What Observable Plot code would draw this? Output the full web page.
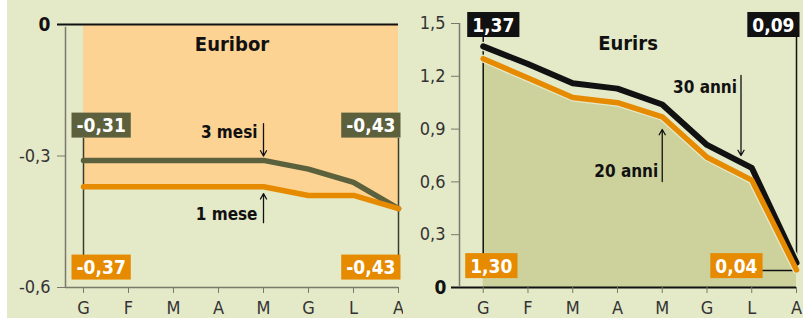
<!DOCTYPE html>
<html><head><meta charset="utf-8">
<script src="https://cdn.jsdelivr.net/npm/d3@7"></script>
<script src="https://cdn.jsdelivr.net/npm/@observablehq/plot@0.6"></script>
<style>
body{margin:0;background:#fff;}
#wrap{display:flex;width:803px;height:318px;overflow:hidden;}
svg{display:block;flex:none}
</style></head><body><div id="wrap"></div>
<script>
// ---- data ----
const months = ["G","F","M","A","M","G","L","A"];
const euribor3m = [-0.31,-0.31,-0.31,-0.31,-0.31,-0.33,-0.36,-0.42];
const euribor1m = [-0.37,-0.37,-0.37,-0.37,-0.37,-0.39,-0.39,-0.42];
const eurirs30 = [1.37,1.27,1.16,1.13,1.04,0.81,0.68,0.14];
const eurirs20 = [1.30,1.19,1.08,1.05,0.97,0.74,0.61,0.10];
const euriborTicks = [-0.6,-0.3,0];
const eurirsTicks = [0,0.3,0.6,0.9,1.2,1.5];
const label3m = ["-0,31","-0,43"];
const label1m = ["-0,37","-0,43"];
const label30 = ["1,37","0,09"];
const label20 = ["1,30","0,04"];

const idx = months.map((m,i)=>i);
const FONT = '"DejaVu Sans Condensed","DejaVu Sans",sans-serif';
const BG = "#e4e9c8";
const OLIVE = "#5b603d";
const ORANGE = "#e68a00";
const BLACK = "#111";
const GRAY = "#7a7a6a";
const fmt = v => v === 0 ? "0" : v.toFixed(1).replace(".", ",");
const box = (color) => ({textAnchor: "start", lineAnchor: "middle", fill: "white", fontWeight: "bold", fontSize: 19, ariaDescription: "box " + color});

const left = Plot.plot({
  width: 403, height: 318,
  marginLeft: 65, marginRight: 5, marginTop: 24, marginBottom: 31,
  x: {domain: [-0.4, 7]},
  y: {domain: [-0.6, 0]},
  style: {background: `linear-gradient(to right, #fff 7px, ${BG} 7px)`, fontFamily: FONT, overflow: "visible"},
  marks: [
    Plot.areaY(idx, {x: i => i, y1: 0, y2: i => euribor1m[i], fill: "#fdd394"}),
    Plot.ruleY([-0.6], {stroke: GRAY, strokeWidth: 1.5}),
    Plot.ruleX([-0.4], {y1: -0.6, y2: -0.006, stroke: GRAY, strokeWidth: 1.5}),
    Plot.axisY({ticks: euriborTicks.filter(d => d !== 0), tickFormat: fmt, tickSize: 8, tickPadding: 7, stroke: GRAY, fill: "#333", fontSize: 18}),
    Plot.axisY({ticks: [0], tickFormat: fmt, tickSize: 8, tickPadding: 7, stroke: BLACK, strokeWidth: 2, fill: BLACK, fontSize: 19, fontWeight: "bold"}),
    Plot.ruleY([0], {stroke: BLACK, strokeWidth: 2}),
    Plot.axisX({ticks: idx, tickFormat: i => months[i], tickSize: 6, tickPadding: 8, stroke: GRAY, fill: "#333", fontSize: 18}),
    Plot.ruleX([0, 7], {y1: -0.26, y2: -0.527, stroke: "#3c3c2c", strokeWidth: 1.5}),
    Plot.lineY(idx, {x: i => i, y: i => euribor3m[i], stroke: OLIVE, strokeWidth: 5.5}),
    Plot.lineY(idx, {x: i => i, y: i => euribor1m[i], stroke: ORANGE, strokeWidth: 5.5}),
    Plot.text(["Euribor"], {text: d => d, frameAnchor: "top", dy: 20, lineAnchor: "middle", fontWeight: "bold", fontSize: 20, fill: BLACK}),
    Plot.text(["3 mesi"], {text: d => d, x: 4, y: -0.2455, dx: -6, textAnchor: "end", lineAnchor: "middle", fontWeight: "bold", fontSize: 17, fill: BLACK}),
    Plot.arrow([0], {x1: 4, x2: 4, y1: -0.226, y2: -0.300, stroke: BLACK, strokeWidth: 1.3, headLength: 7}),
    Plot.text(["1 mese"], {text: d => d, x: 4, y: -0.433, dx: -6, textAnchor: "end", lineAnchor: "middle", fontWeight: "bold", fontSize: 17, fill: BLACK}),
    Plot.arrow([0], {x1: 4, x2: 4, y1: -0.452, y2: -0.386, stroke: BLACK, strokeWidth: 1.3, headLength: 7}),
    Plot.text([label3m[0]], {...box("#5c603c"), text: d => d, x: 0, y: -0.2316, dx: -7}),
    Plot.text([label3m[1]], {...box("#5c603c"), text: d => d, x: 7, y: -0.2316, dx: -3, textAnchor: "end"}),
    Plot.text([label1m[0]], {...box(ORANGE), text: d => d, x: 0, y: -0.5555, dx: -7}),
    Plot.text([label1m[1]], {...box(ORANGE), text: d => d, x: 7, y: -0.5555, dx: -3, textAnchor: "end"})
  ]
});

const right = Plot.plot({
  width: 400, height: 318,
  marginLeft: 56, marginRight: 7, marginTop: 23, marginBottom: 31,
  x: {domain: [-0.53, 7]},
  y: {domain: [0, 1.5]},
  style: {background: BG, fontFamily: FONT, overflow: "visible"},
  marks: [
    Plot.areaY(idx, {x: i => i, y1: 0, y2: i => eurirs20[i], fill: "#cdd29c"}),
    Plot.ruleX([-0.53], {y1: 0.006, y2: 1.5, stroke: GRAY, strokeWidth: 1.5}),
    Plot.axisY({ticks: eurirsTicks.filter(d => d !== 0), tickFormat: fmt, tickSize: 8, tickPadding: 6, stroke: GRAY, fill: "#333", fontSize: 18}),
    Plot.axisY({ticks: [0], tickFormat: fmt, tickSize: 8, tickPadding: 5, stroke: BLACK, strokeWidth: 2, fill: BLACK, fontSize: 19, fontWeight: "bold"}),
    Plot.ruleY([0], {stroke: BLACK, strokeWidth: 2}),
    Plot.axisX({ticks: idx, tickFormat: i => months[i], tickSize: 6, tickPadding: 8, stroke: GRAY, fill: "#333", fontSize: 18}),
    Plot.ruleX([0], {y1: 1.4205, y2: 0.1875, stroke: BLACK, strokeWidth: 1.5}),
    Plot.ruleX([7], {y1: 1.4205, y2: 0.0966, stroke: BLACK, strokeWidth: 1.5}),
    Plot.ruleY([0.0966], {x1: 6.24, x2: 7, stroke: BLACK, strokeWidth: 1.5}),
    Plot.lineY(idx, {x: i => i, y: i => eurirs30[i], stroke: BG, strokeWidth: 9}),
    Plot.lineY(idx, {x: i => i, y: i => eurirs20[i], stroke: BG, strokeWidth: 8}),
    Plot.lineY(idx, {x: i => i, y: i => eurirs30[i], stroke: BLACK, strokeWidth: 6}),
    Plot.lineY(idx, {x: i => i, y: i => eurirs20[i], stroke: ORANGE, strokeWidth: 5.5}),
    Plot.text(["Eurirs"], {text: d => d, frameAnchor: "top", dy: 20.5, lineAnchor: "middle", fontWeight: "bold", fontSize: 20, fill: BLACK}),
    Plot.text(["30 anni"], {text: d => d, x: 5.76, y: 1.1335, dx: -4, textAnchor: "end", lineAnchor: "middle", fontWeight: "bold", fontSize: 17, fill: BLACK}),
    Plot.arrow([0], {x1: 5.76, x2: 5.76, y1: 1.2045, y2: 0.75, stroke: BLACK, strokeWidth: 1.3, headLength: 7}),
    Plot.text(["20 anni"], {text: d => d, x: 4, y: 0.656, dx: -4, textAnchor: "end", lineAnchor: "middle", fontWeight: "bold", fontSize: 17, fill: BLACK}),
    Plot.arrow([0], {x1: 4, x2: 4, y1: 0.602, y2: 0.898, stroke: BLACK, strokeWidth: 1.3, headLength: 7}),
    Plot.text([label30[0]], {...box(BLACK), text: d => d, x: 0, y: 1.489, dx: -11}),
    Plot.text([label30[1]], {...box(BLACK), text: d => d, x: 7, y: 1.489, dx: -2, textAnchor: "end"}),
    Plot.text([label20[0]], {...box(ORANGE), text: d => d, x: 0, y: 0.119, dx: -13}),
    Plot.text([label20[1]], {...box(ORANGE), text: d => d, x: 7, y: 0.119, dx: -39, textAnchor: "end"})
  ]
});

const wrap = document.getElementById("wrap");
wrap.appendChild(left);
wrap.appendChild(right);

function addBoxes(svg) {
  svg.querySelectorAll('g[aria-description^="box"]').forEach(g => {
    const color = g.getAttribute("aria-description").split(" ")[1];
    g.querySelectorAll("text").forEach(t => {
      const bb = t.getBBox();
      const r = document.createElementNS("http://www.w3.org/2000/svg", "rect");
      const cy = bb.y + bb.height / 2;
      r.setAttribute("x", bb.x - 5);
      r.setAttribute("width", bb.width + 10);
      r.setAttribute("y", cy - 12.5);
      r.setAttribute("height", 25);
      r.setAttribute("fill", color);
      r.setAttribute("stroke", "none");
      if (t.getAttribute("transform")) r.setAttribute("transform", t.getAttribute("transform"));
      t.parentNode.insertBefore(r, t);
    });
  });
}
addBoxes(left);
addBoxes(right);
</script></body></html>
